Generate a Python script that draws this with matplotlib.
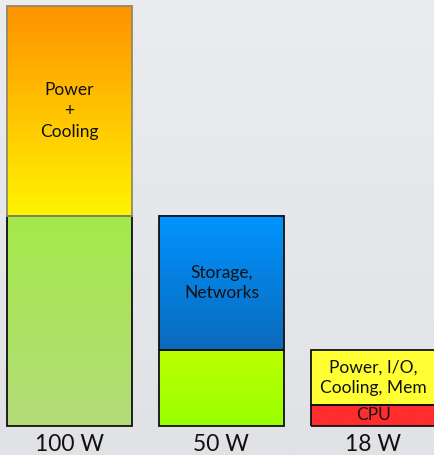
import numpy as np
import matplotlib
matplotlib.use("Agg")
import matplotlib.pyplot as plt

# watts per system, split into two stacked parts
totals = ["100 W", "50 W", "18 W"]
bottom_vals = [50, 18, 5]
top_vals = [50, 32, 13]
bottom_labels = ["", "", "CPU"]
top_labels = ["Power\n+\nCooling", "Storage,\nNetworks", "Power, I/O,\nCooling, Mem"]

# gradient colours (top colour, bottom colour) for each segment
bottom_cols = [("#a3e94a", "#b4dc7a"), ("#bbff00", "#99ff00"), ("#ff2d2d", "#ff2d2d")]
top_cols = [("#ff9200", "#fff400"), ("#0094ff", "#0b6abd"), ("#ffff33", "#ffff33")]
top_edges = ["#8f8a6a", "#111111", "#111111"]

plt.rcParams["font.family"] = ["Lato", "DejaVu Sans"]

W, H = 435, 455
fig = plt.figure(figsize=(W / 100, H / 100), dpi=100)

# background
bg = fig.add_axes([0, 0, 1, 1])
grad = np.linspace(0, 1, 256).reshape(-1, 1)
c1 = np.array(matplotlib.colors.to_rgb("#ebecef"))
c2 = np.array(matplotlib.colors.to_rgb("#e1e2e6"))
bg.imshow(c1 + (c2 - c1) * grad[:, :, None], aspect="auto", extent=(0, 1, 0, 1))
bg.axis("off")

base_px = 29
px_per_w = 4.2
ax = fig.add_axes([0, base_px / H, 1, 100 * px_per_w / H])
unit = 152.0
ax.axis("off")
ax.patch.set_alpha(0)

x = np.arange(len(totals))
width = 125 / unit


def grad_bar(xc, b, h, cols, edge):
    ctop = np.array(matplotlib.colors.to_rgb(cols[0]))
    cbot = np.array(matplotlib.colors.to_rgb(cols[1]))
    g = np.linspace(0, 1, 128).reshape(-1, 1)
    img = ctop + (cbot - ctop) * g[:, :, None]
    ax.imshow(img, aspect="auto", extent=(xc - width / 2, xc + width / 2, b, b + h),
              zorder=1, clip_on=False)
    ax.bar(xc, h, width, bottom=b, fill=False, edgecolor=edge, linewidth=1.3,
           zorder=2, clip_on=False)


for i in range(len(totals)):
    grad_bar(x[i], 0, bottom_vals[i], bottom_cols[i], "#111111")
    grad_bar(x[i], bottom_vals[i], top_vals[i], top_cols[i], top_edges[i])
    if bottom_labels[i]:
        ax.text(x[i], bottom_vals[i] / 2, bottom_labels[i], ha="center", va="center",
                fontsize=12.5, color="#111111", zorder=3)
    ax.text(x[i], bottom_vals[i] + top_vals[i] / 2, top_labels[i], ha="center",
            va="center", fontsize=12.5, color="#111111", linespacing=1.35, zorder=3)
    ax.text(x[i], -4.3, totals[i], ha="center", va="center", fontsize=16.5,
            color="#111111", clip_on=False)

ax.set_xlim(-69.5 / unit, (W - 69.5) / unit)
ax.set_ylim(0, 100)

fig.savefig("out.png", dpi=100)
